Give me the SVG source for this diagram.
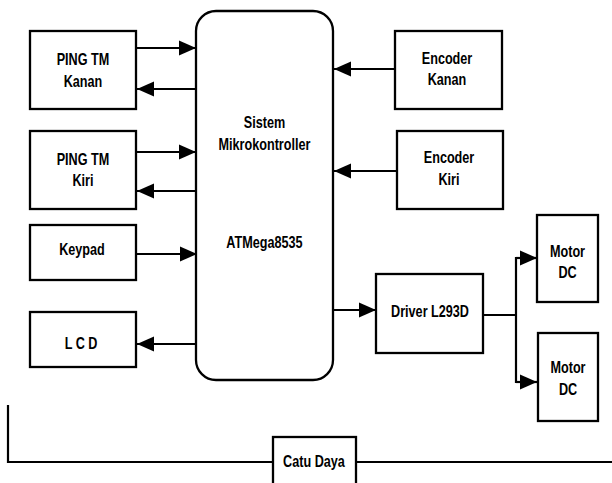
<svg xmlns="http://www.w3.org/2000/svg" width="612" height="483" viewBox="0 0 612 483">
<style>
.box{fill:#fff;stroke:#000;stroke-width:2.3}
.ln{fill:none;stroke:#000;stroke-width:2.2}
.t{font-family:"Liberation Sans",Arial,sans-serif;font-weight:bold;font-size:16px;text-anchor:middle;fill:#000}
</style>
<defs>
<marker id="ah" markerUnits="userSpaceOnUse" markerWidth="18" markerHeight="16" refX="17" refY="8" orient="auto">
<path d="M0,0.5 L17,8 L0,15.5 Z" fill="#000"/>
</marker>
</defs>
<rect width="612" height="483" fill="#fff"/>
<g id="connectors">
<line class="ln" x1="137" y1="48" x2="196" y2="48" marker-end="url(#ah)"/>
<line class="ln" x1="196" y1="89" x2="137" y2="89" marker-end="url(#ah)"/>
<line class="ln" x1="137" y1="152" x2="196" y2="152" marker-end="url(#ah)"/>
<line class="ln" x1="196" y1="191" x2="137" y2="191" marker-end="url(#ah)"/>
<line class="ln" x1="137" y1="254" x2="197" y2="254" marker-end="url(#ah)"/>
<line class="ln" x1="196" y1="344" x2="137" y2="344" marker-end="url(#ah)"/>
<line class="ln" x1="395" y1="69" x2="334" y2="69" marker-end="url(#ah)"/>
<line class="ln" x1="397" y1="171" x2="334" y2="171" marker-end="url(#ah)"/>
<line class="ln" x1="333" y1="310" x2="376" y2="310" marker-end="url(#ah)"/>
<polyline class="ln" points="483,315 516,315"/>
<polyline class="ln" points="537,258 516,258 516,382 537,382"/>
<line class="ln" x1="516" y1="258" x2="537" y2="258" marker-end="url(#ah)"/>
<line class="ln" x1="516" y1="382" x2="537" y2="382" marker-end="url(#ah)"/>
<polyline class="ln" points="8,405 8,462 273,462"/>
<line class="ln" x1="356" y1="462" x2="612" y2="462"/>
</g>
<g id="ping-kanan"><rect class="box" x="30" y="31" width="106" height="78"/>
<text class="t" transform="translate(83,65) scale(0.79,1)">PING TM</text>
<text class="t" transform="translate(83,86.5) scale(0.79,1)">Kanan</text></g>
<g id="ping-kiri"><rect class="box" x="30" y="131" width="106" height="78"/>
<text class="t" transform="translate(83,165) scale(0.79,1)">PING TM</text>
<text class="t" transform="translate(83,185.5) scale(0.79,1)">Kiri</text></g>
<g id="keypad"><rect class="box" x="30" y="225" width="106" height="55"/>
<text class="t" transform="translate(82,255) scale(0.79,1)">Keypad</text></g>
<g id="lcd"><rect class="box" x="30" y="312" width="106" height="55"/>
<text class="t" transform="translate(81,349) scale(0.79,1)">L C D</text></g>
<g id="mikro"><rect class="box" x="196" y="11" width="137" height="369" rx="20" ry="20"/>
<text class="t" transform="translate(264.5,128) scale(0.79,1)">Sistem</text>
<text class="t" transform="translate(264.5,150) scale(0.79,1)">Mikrokontroller</text>
<text class="t" transform="translate(264.5,248) scale(0.79,1)">ATMega8535</text></g>
<g id="enc-kanan"><rect class="box" x="395" y="31" width="107" height="78"/>
<text class="t" transform="translate(447,63.5) scale(0.79,1)">Encoder</text>
<text class="t" transform="translate(447,85) scale(0.79,1)">Kanan</text></g>
<g id="enc-kiri"><rect class="box" x="397" y="131" width="106" height="78"/>
<text class="t" transform="translate(449,163) scale(0.79,1)">Encoder</text>
<text class="t" transform="translate(449,185) scale(0.79,1)">Kiri</text></g>
<g id="driver"><rect class="box" x="376" y="274" width="107" height="79"/>
<text class="t" transform="translate(430,316.5) scale(0.79,1)">Driver L293D</text></g>
<g id="motor1"><rect class="box" x="537" y="215" width="61" height="87"/>
<text class="t" transform="translate(567.5,256.5) scale(0.79,1)">Motor</text>
<text class="t" transform="translate(567.5,278) scale(0.79,1)">DC</text></g>
<g id="motor2"><rect class="box" x="538" y="333" width="60" height="88"/>
<text class="t" transform="translate(568,373) scale(0.79,1)">Motor</text>
<text class="t" transform="translate(568,395) scale(0.79,1)">DC</text></g>
<g id="catu"><rect class="box" x="273" y="437" width="83" height="60"/>
<text class="t" transform="translate(314,467) scale(0.79,1)">Catu Daya</text></g>
</svg>
